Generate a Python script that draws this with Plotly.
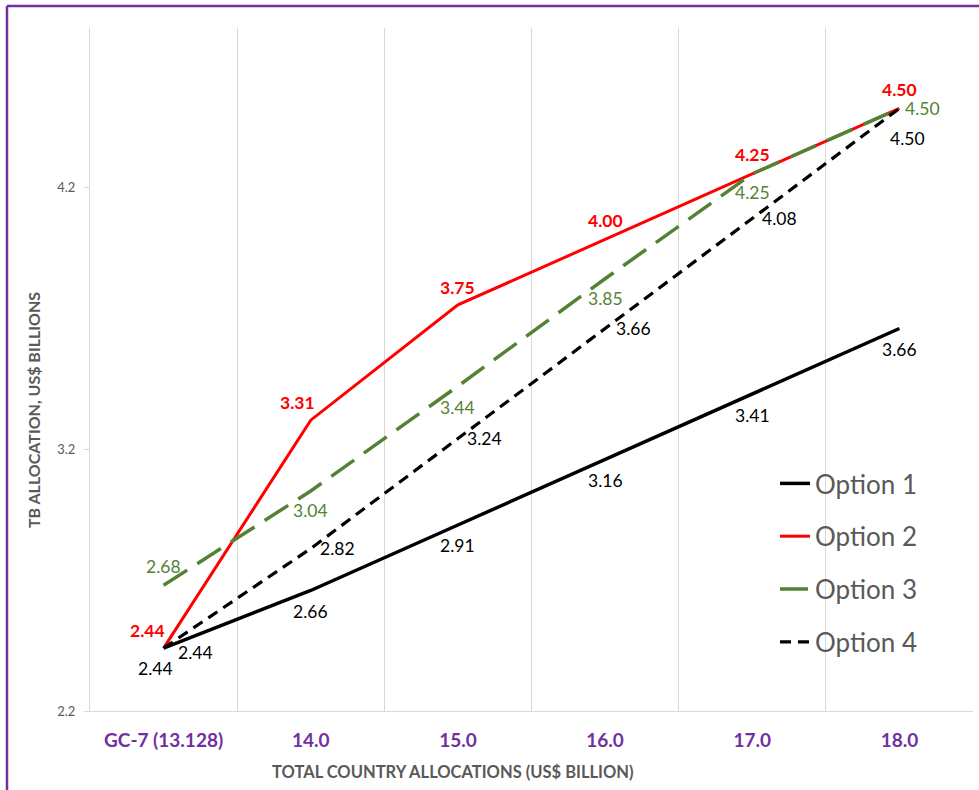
import plotly.graph_objects as go

# Allocation scenarios: total country allocation vs. TB allocation (US$ billions)
categories = ["GC-7 (13.128)", "14.0", "15.0", "16.0", "17.0", "18.0"]
series_names = ["Option 1", "Option 2", "Option 3", "Option 4"]
option_1 = [2.44, 2.66, 2.91, 3.16, 3.41, 3.66]
option_2 = [2.44, 3.31, 3.75, 4.00, 4.25, 4.50]
option_3 = [2.68, 3.04, 3.44, 3.85, 4.25, 4.50]
option_4 = [2.44, 2.82, 3.24, 3.66, 4.08, 4.50]
y_tick_values = [2.2, 3.2, 4.2]

FONT = "Lato"
GRAY = "#595959"
PURPLE = "#7030A0"
GREEN = "#548235"
RED = "#FF0000"
GRID = "#D9D9D9"

series = [option_1, option_2, option_3, option_4]
line_styles = [
    dict(color="#000000", width=3.5, dash="solid"),
    dict(color=RED, width=3, dash="solid"),
    dict(color=GREEN, width=3.5, dash="28px,12px"),
    dict(color="#000000", width=3.2, dash="11px,7px"),
]
LABEL_SIZE = 17.5
label_fonts = [
    dict(family=FONT, size=LABEL_SIZE, color="#000000"),
    dict(family=FONT, size=LABEL_SIZE, color=RED, weight="bold"),
    dict(family=FONT, size=LABEL_SIZE, color=GREEN),
    dict(family=FONT, size=LABEL_SIZE, color="#000000"),
]
# per-point (xshift, yshift) of each value label, in pixels
label_offsets = [
    [(-8, -20), (0, -21), (0, -21), (0, -21), (0, -21), (0, -21)],
    [(-16, 18), (-13, 18), (0, 17), (0, 19), (0, 19), (0, 19)],
    [(0, 19), (0, -20), (0, -21), (0, -20), (0, -19), (23, 0)],
    [(32, -4), (27, 0), (27, 0), (28, 0), (27, 0), (8, -30)],
]

fig = go.Figure()
for i, (name, values) in enumerate(zip(series_names, series)):
    fig.add_trace(go.Scatter(
        x=categories, y=values, name=name, mode="lines",
        line=line_styles[i], legendgroup=name,
    ))

annotations = []
for i, values in enumerate(series):
    for j, v in enumerate(values):
        dx, dy = label_offsets[i][j]
        # category axis: position by category index
        annotations.append(dict(
            x=j, y=v, xref="x", yref="y", text=f"{v:.2f}",
            showarrow=False, xshift=dx, yshift=dy, font=label_fonts[i],
        ))

# axis titles
annotations.append(dict(
    x=(453 - 90) / 883, y=-(772 - 711) / 683, xref="paper", yref="paper",
    text="<b>TOTAL COUNTRY ALLOCATIONS (US$ BILLION)</b>", showarrow=False,
    font=dict(family=FONT, size=16.5, color=GRAY), xanchor="center", yanchor="middle",
))
annotations.append(dict(
    x=-(90 - 33) / 883, y=(711 - 410) / 683, xref="paper", yref="paper",
    text="<b>TB ALLOCATION, US$ BILLIONS</b>", showarrow=False, textangle=-90,
    font=dict(family=FONT, size=16, color=GRAY), xanchor="center", yanchor="middle",
))

# purple frame along the top and left of the page
x_left = (7 - 90) / 883
y_top = (711 - 6) / 683
shapes = [
    dict(type="line", xref="paper", yref="paper", x0=x_left, x1=1.2, y0=y_top, y1=y_top,
         line=dict(color=PURPLE, width=2.5)),
    dict(type="line", xref="paper", yref="paper", x0=x_left, x1=x_left, y0=-0.2, y1=y_top,
         line=dict(color=PURPLE, width=2.5)),
]

fig.update_layout(
    width=979, height=790,
    margin=dict(l=90, r=6, t=28, b=79),
    paper_bgcolor="white", plot_bgcolor="white",
    font=dict(family=FONT, color=GRAY),
    showlegend=True,
    legend=dict(
        x=(775 - 90) / 883, y=(711 - 460) / 683, xanchor="left", yanchor="top",
        bgcolor="rgba(0,0,0,0)", font=dict(family=FONT, size=26, color=GRAY),
        tracegroupgap=16, itemwidth=30,
    ),
    annotations=annotations,
    shapes=shapes,
    xaxis=dict(
        type="category", categoryorder="array", categoryarray=categories,
        range=[-0.5, 5.5], tickson="boundaries",
        showgrid=True, gridcolor=GRID, gridwidth=1,
        showline=True, linecolor=GRID, linewidth=1, mirror=False,
        ticks="", ticklabelstandoff=12,
        tickfont=dict(family=FONT, size=19, color=PURPLE, weight="bold"),
        zeroline=False,
    ),
    yaxis=dict(
        range=[2.2, 4.807], tickvals=y_tick_values,
        ticktext=[f"{t:.1f}" for t in y_tick_values],
        showgrid=False, zeroline=False,
        showline=True, linecolor=GRID, linewidth=1,
        ticks="outside", ticklen=5, tickcolor=GRID,
        tickfont=dict(family=FONT, size=13, color=GRAY),
        ticklabelstandoff=6,
    ),
)

fig.write_html("out.html")
